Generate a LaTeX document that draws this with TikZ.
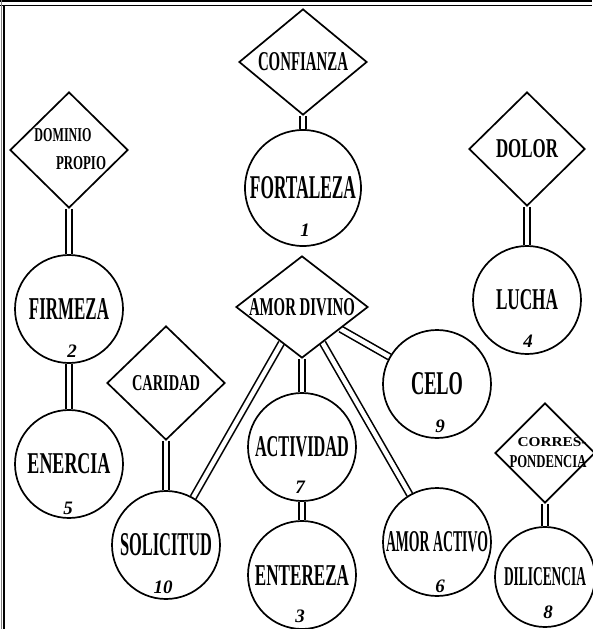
\documentclass[tikz,border=0pt]{standalone}
\usepackage{fontspec}
\setmainfont{Liberation Serif}
\usetikzlibrary{shapes.geometric}
\pgfdeclarelayer{bg}
\pgfsetlayers{bg,main}
\newcommand{\lbl}[3]{\makebox[0pt]{\resizebox{#1pt}{#2pt}{\bfseries #3}}}
\newcommand{\nb}[1]{{\fontsize{19}{19}\selectfont\bfseries\itshape #1}}
\begin{document}
\begin{tikzpicture}[x=1pt,y=-1pt,
  circ/.style={circle,draw,line width=1.7pt,minimum size=#1,inner sep=0pt},
  dia/.style={diamond,draw,line width=1.7pt,inner sep=0pt},
  conn/.style={double,line width=1.6pt,double distance=4.5pt},
  txt/.style={inner sep=0pt},
  num/.style={inner sep=0pt}]
\useasboundingbox (0,0) rectangle (592,629);
% frame
\draw[line width=1.2pt] (0,1) -- (592,1);
\draw[line width=0.9pt] (0,5) -- (592,5);
\draw[line width=0.8pt,gray] (1,0) -- (1,629);
\draw[line width=1.3pt] (4,5) -- (4,629);

% diamonds
\node[dia,minimum width=128pt,minimum height=106pt] (conf) at (303,62) {\lbl{90}{18}{CONFIANZA}};
\node[dia,minimum width=118pt,minimum height=116pt] (dom) at (69,150) {};
\node[txt] (domA) at (63,135) {\lbl{57}{13}{DOMINIO}};
\node[txt] (domB) at (81,163) {\lbl{50}{13}{PROPIO}};
\node[dia,minimum width=116pt,minimum height=114pt] (dolor) at (527,149) {\lbl{62}{18}{DOLOR}};
\node[dia,minimum width=132pt,minimum height=102pt] (amor) at (302,307) {\lbl{106}{17}{AMOR DIVINO}};
\node[dia,minimum width=118pt,minimum height=114pt] (car) at (166,383) {\lbl{68}{15}{CARIDAD}};
\node[dia,minimum width=100pt,minimum height=100pt] (corr) at (545,453) {};
\node[txt] (corrA) at (552,442) {\lbl{69}{9}{CORRES-}};
\node[txt] (corrB) at (548,462) {\lbl{77}{12}{PONDENCIA}};

% circles
\node[circ=116pt] (fort) at (303,188) {\lbl{106}{22}{FORTALEZA}};
\node[num] (n1) at (305,230) {\nb{1}};
\node[circ=108pt] (firm) at (69,309) {\lbl{80}{21}{FIRMEZA}};
\node[num] (n2) at (72,351) {\nb{2}};
\node[circ=108pt] (ener) at (69,464) {\lbl{83}{20}{ENERCIA}};
\node[num] (n5) at (68,508) {\nb{5}};
\node[circ=108pt] (sol) at (166,545) {\lbl{92}{22}{SOLICITUD}};
\node[num] (n10) at (163,587) {\nb{10}};
\node[circ=108pt] (act) at (302,447) {\lbl{94}{20}{ACTIVIDAD}};
\node[num] (n7) at (300,487) {\nb{7}};
\node[circ=108pt] (ent) at (302,575) {\lbl{94}{20}{ENTEREZA}};
\node[num] (n3) at (300,616) {\nb{3}};
\node[circ=108pt] (aact) at (437,542) {\lbl{102}{20}{AMOR ACTIVO}};
\node[num] (n6) at (440,586) {\nb{6}};
\node[circ=108pt] (celo) at (437,384) {\lbl{52}{22}{CELO}};
\node[num] (n9) at (440,426) {\nb{9}};
\node[circ=108pt] (lucha) at (527,300) {\lbl{62}{20}{LUCHA}};
\node[num] (n4) at (528,341) {\nb{4}};
\node[circ=100pt] (dil) at (545,577) {\lbl{82}{18}{DILICENCIA}};
\node[num] (n8) at (548,612) {\nb{8}};

% connectors
\begin{pgfonlayer}{bg}
\draw[conn] (conf) -- (fort);
\draw[conn] (dom) -- (firm);
\draw[conn] (firm) -- (ener);
\draw[conn] (dolor) -- (lucha);
\draw[conn] (car) -- (sol);
\draw[conn] (amor) -- (act);
\draw[conn] (act) -- (ent);
\draw[conn] (amor) -- (sol);
\draw[conn] (amor) -- (aact);
\draw[conn] (amor) -- (celo);
\draw[conn] (corr) -- (dil);
\end{pgfonlayer}
\end{tikzpicture}
\end{document}
